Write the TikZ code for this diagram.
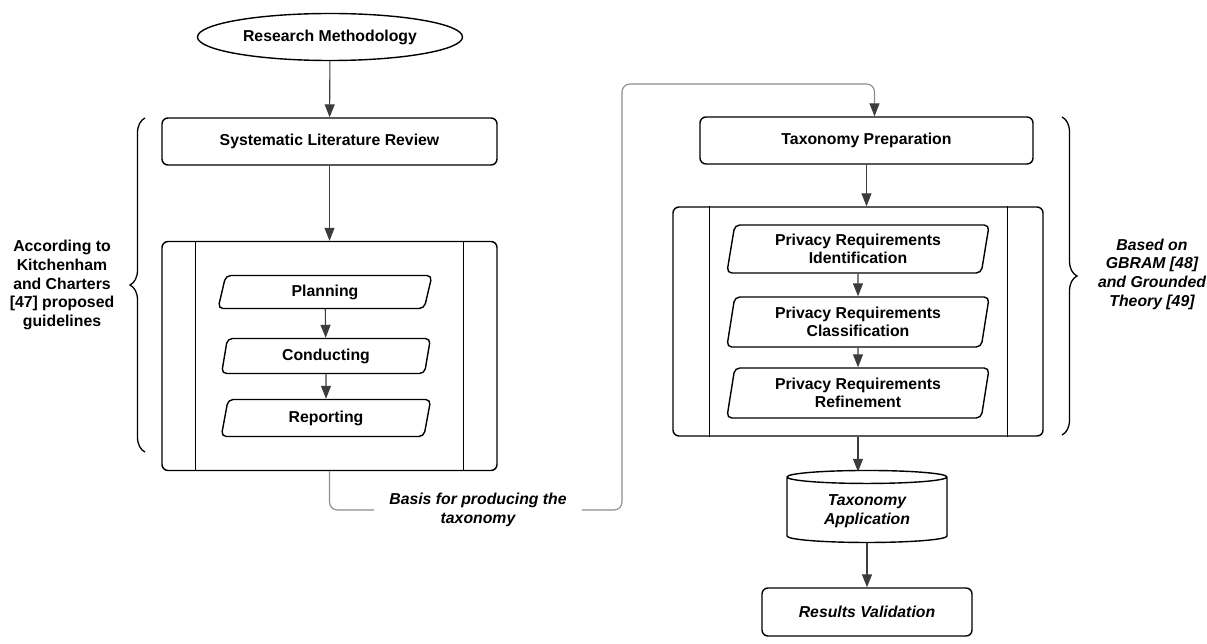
\documentclass[tikz,border=0pt]{standalone}
\usepackage{fontspec}
\setmainfont{Liberation Sans}
\usetikzlibrary{shapes.geometric,arrows.meta,decorations.pathreplacing,calc}
\definecolor{arrowgray}{HTML}{3C3C3C}
\definecolor{linkgray}{HTML}{8C8C8C}

\begin{document}
\begin{tikzpicture}[x=1pt, y=-1pt,
  lbl/.style={font=\fontsize{15.8}{18.7}\selectfont\bfseries, align=center},
  ilbl/.style={font=\fontsize{15.8}{18.7}\selectfont\bfseries\itshape, align=center},
  box/.style={draw, rounded corners=6, line width=1.4, inner sep=0pt},
  slant/.style={draw, trapezium, trapezium left angle=80, trapezium right angle=100,
    trapezium stretches=true, rounded corners=5, line width=1.4, inner sep=0pt},
  flow/.style={draw=arrowgray, line width=1.1, -{Triangle[length=13pt,width=10pt]}},
  link/.style={draw=linkgray, line width=1.1, rounded corners=8},
  curly/.style={draw, line width=1.3, decorate, decoration={brace, amplitude=15pt}}]
\useasboundingbox (0,0) rectangle (1207,644);

% left column
\node[draw, ellipse, line width=1.4, minimum width=265, minimum height=47, lbl] (rm) at (330,37) {Research Methodology};
\node[box, minimum width=335, minimum height=47, lbl] (slr) at (329.5,141.5) {Systematic Literature Review};
\path[flow] (rm) -- (slr);

\node[box, minimum width=335, minimum height=229] (slrc) at (329.5,356) {};
\path[draw, line width=1.4] ($(slrc.north west)+(34,0)$) -- ($(slrc.south west)+(34,0)$);
\path[draw, line width=1.4] ($(slrc.north east)+(-34,0)$) -- ($(slrc.south east)+(-34,0)$);
\path[flow] (slr) -- (slrc);

\node[slant, minimum width=214, minimum height=33, lbl] (plan) at (325,292) {Planning};
\node[slant, minimum width=210, minimum height=35, lbl] (cond) at (326,356) {Conducting};
\node[slant, minimum width=210, minimum height=37, lbl] (rep) at (326,418) {Reporting};
\path[flow] (plan) -- (cond);
\path[flow] (cond) -- (rep);

\path[curly] (145,452) -- (145,118);
\node[lbl] (kc) at (62,285) {According to\\Kitchenham\\and Charters\\{}[47] proposed\\guidelines};

% link between the two columns
\node[ilbl, inner xsep=15pt] (basis) at (478,510) {Basis for producing the\\taxonomy};
\path[link] (slrc.south) |- (basis.west);
\coordinate (turn) at (622,84);
\node[box, minimum width=333, minimum height=47, lbl] (tp) at (866.5,140.5) {Taxonomy Preparation};
\path[link, -{Triangle[length=13pt,width=10pt,color=arrowgray]}] (basis.east) -| (turn) -| ($(tp.north)+(8,0)$);

% right column
\node[box, minimum width=370, minimum height=229] (prc) at (858,321.5) {};
\path[draw, line width=1.4] ($(prc.north west)+(37,0)$) -- ($(prc.south west)+(37,0)$);
\path[draw, line width=1.4] ($(prc.north east)+(-36,0)$) -- ($(prc.south east)+(-36,0)$);
\path[flow] (tp.south) -- (tp.south |- prc.north);

\node[slant, minimum width=263, minimum height=48, lbl] (ident) at (858,249) {Privacy Requirements\\Identification};
\node[slant, minimum width=263, minimum height=50, lbl] (class) at (858,322) {Privacy Requirements\\Classification};
\node[slant, minimum width=263, minimum height=50, lbl] (refine) at (858,393) {Privacy Requirements\\Refinement};
\path[flow] (ident) -- (class);
\path[flow] (class) -- (refine);

\node[draw, cylinder, shape border rotate=90, aspect=0.14, line width=1.4, minimum width=160, minimum height=72, ilbl] (app) at (867,511) {Taxonomy\\Application};
\path[flow] (prc.south) -- ($(prc.south |- app.north)+(0,2)$);
\node[box, minimum width=210, minimum height=48, ilbl] (rv) at (867,612) {Results Validation};
\path[flow] (app) -- (rv);

\path[curly] (1062,117) -- (1062,435);
\node[ilbl] (gb) at (1152,274) {Based on\\GBRAM [48]\\and Grounded\\Theory [49]};
\end{tikzpicture}
\end{document}
